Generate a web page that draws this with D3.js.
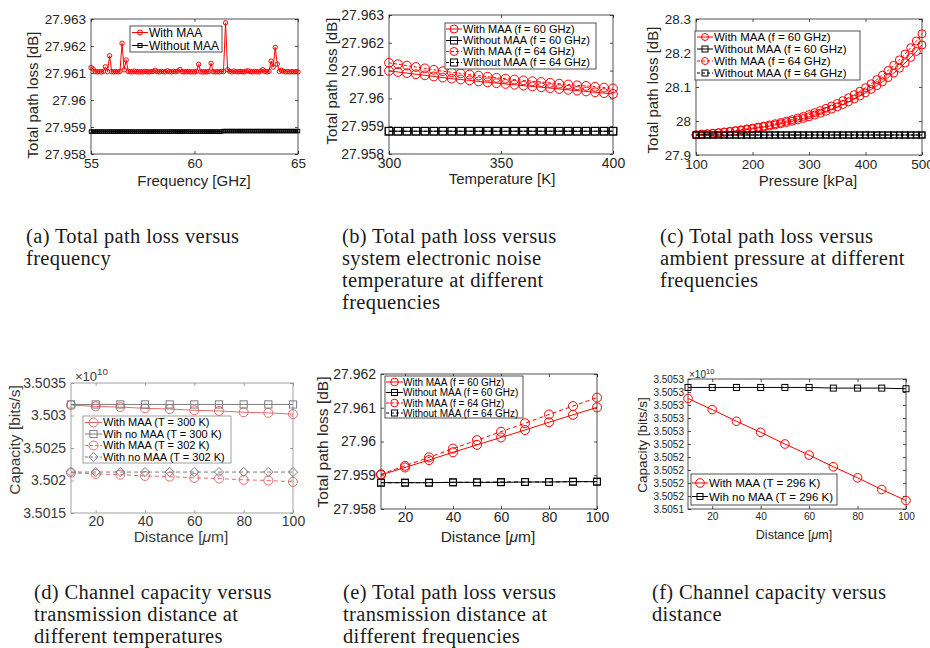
<!DOCTYPE html>
<html><head><meta charset="utf-8">
<script src="https://cdn.jsdelivr.net/npm/d3@7/dist/d3.min.js"></script>
<style>
body{margin:0;background:#fff}
svg{display:block}
</style>
</head><body>
<svg id="chart" width="930" height="648"></svg>
<script>
// ---------------- DATA ----------------
// (a) Total path loss vs frequency
const freqGHz = d3.range(101).map(i => +(55 + i * 0.1).toFixed(1));
const aWithMAA = [
27.96120,27.96115,27.96106,27.96104,27.96105,27.96104,27.96106,27.96123,27.96105,27.96164,
27.96105,27.96104,27.96105,27.96104,27.96106,27.96210,27.96112,27.96148,27.96106,27.96105,
27.96104,27.96107,27.96105,27.96104,27.96105,27.96104,27.96106,27.96105,27.96104,27.96105,
27.96106,27.96110,27.96105,27.96104,27.96106,27.96105,27.96104,27.96108,27.96105,27.96104,
27.96106,27.96105,27.96107,27.96113,27.96105,27.96104,27.96105,27.96106,27.96104,27.96105,
27.96104,27.96106,27.96132,27.96105,27.96104,27.96105,27.96104,27.96106,27.96136,27.96105,
27.96104,27.96105,27.96104,27.96106,27.96105,27.96286,27.96112,27.96106,27.96104,27.96107,
27.96105,27.96104,27.96106,27.96105,27.96104,27.96107,27.96108,27.96105,27.96104,27.96106,
27.96105,27.96104,27.96107,27.96112,27.96106,27.96104,27.96106,27.96144,27.96122,27.96195,
27.96133,27.96106,27.96110,27.96106,27.96104,27.96105,27.96104,27.96105,27.96104,27.96105,
27.96104];
const aWithoutMAA = [
27.95883,27.95883,27.95883,27.95883,27.95883,27.95883,27.95883,27.95883,27.95883,27.95883,
27.95883,27.95883,27.95883,27.95883,27.95883,27.95883,27.95883,27.95883,27.95883,27.95883,
27.95883,27.95883,27.95883,27.95883,27.95883,27.95883,27.95883,27.95883,27.95883,27.95883,
27.95883,27.95883,27.95883,27.95883,27.95883,27.95883,27.95883,27.95883,27.95883,27.95883,
27.95883,27.95883,27.95883,27.95883,27.95883,27.95883,27.95883,27.95883,27.95883,27.95883,
27.95883,27.95883,27.95883,27.95883,27.95883,27.95883,27.95883,27.95883,27.95883,27.95883,
27.95883,27.95883,27.95883,27.95883,27.95885,27.95885,27.95885,27.95885,27.95885,27.95885,
27.95885,27.95885,27.95885,27.95885,27.95885,27.95885,27.95885,27.95885,27.95885,27.95885,
27.95885,27.95885,27.95885,27.95885,27.95885,27.95885,27.95885,27.95885,27.95885,27.95885,
27.95885,27.95885,27.95885,27.95885,27.95885,27.95885,27.95885,27.95885,27.95885,27.95885,
27.95885];

// (b) Total path loss vs temperature
const tempK = d3.range(26).map(i => 300 + 4 * i);
const bWith60 = [27.96099,27.96095,27.96091,27.96087,27.96083,27.96079,27.96075,27.96071,27.96068,27.96065,
27.96061,27.96058,27.96055,27.96052,27.96049,27.96046,27.96043,27.96040,27.96037,27.96034,
27.96031,27.96028,27.96025,27.96022,27.96019,27.96016];
const bWithout60 = [27.95882,27.95882,27.95882,27.95882,27.95882,27.95882,27.95882,27.95882,27.95882,27.95882,
27.95882,27.95882,27.95882,27.95882,27.95882,27.95882,27.95882,27.95882,27.95882,27.95882,
27.95882,27.95882,27.95882,27.95882,27.95882,27.95882];
const bWith64 = [27.96128,27.96123,27.96118,27.96113,27.96108,27.96103,27.96098,27.96094,27.96090,27.96086,
27.96082,27.96078,27.96074,27.96071,27.96068,27.96065,27.96062,27.96059,27.96056,27.96053,
27.96050,27.96047,27.96045,27.96042,27.96039,27.96036];
const bWithout64 = [27.95882,27.95882,27.95882,27.95882,27.95882,27.95882,27.95882,27.95882,27.95882,27.95882,
27.95882,27.95882,27.95882,27.95882,27.95882,27.95882,27.95882,27.95882,27.95882,27.95882,
27.95882,27.95882,27.95882,27.95882,27.95882,27.95882];

// (c) Total path loss vs pressure
const pressureKPa = d3.range(41).map(i => 100 + 10 * i);
const cWith60 = [27.9595,27.9608,27.9621,27.9636,27.9651,27.9668,27.9686,27.9705,27.9725,27.9747,
27.9771,27.9796,27.9823,27.9852,27.9883,27.9917,27.9953,27.9991,28.0032,28.0076,
28.0123,28.0174,28.0228,28.0286,28.0348,28.0415,28.0486,28.0563,28.0645,28.0733,
28.0827,28.0928,28.1036,28.1152,28.1277,28.1410,28.1553,28.1706,28.1870,28.2046,
28.2235];
const cWith64 = [27.9595,27.9609,27.9624,27.9641,27.9658,27.9677,27.9697,27.9719,27.9742,27.9767,
27.9793,27.9821,27.9852,27.9885,27.9920,27.9957,27.9997,28.0040,28.0087,28.0136,
28.0189,28.0246,28.0307,28.0372,28.0442,28.0517,28.0598,28.0684,28.0776,28.0875,
28.0981,28.1095,28.1217,28.1347,28.1487,28.1637,28.1798,28.1970,28.2155,28.2353,
28.2565];
const cWithout60 = [27.9588,27.9588,27.9588,27.9588,27.9588,27.9588,27.9588,27.9588,27.9588,27.9588,
27.9588,27.9588,27.9588,27.9588,27.9588,27.9588,27.9588,27.9588,27.9588,27.9588,
27.9588,27.9588,27.9588,27.9588,27.9588,27.9588,27.9588,27.9588,27.9588,27.9588,
27.9588,27.9588,27.9588,27.9588,27.9588,27.9588,27.9588,27.9588,27.9588,27.9588,
27.9588];
const cWithout64 = [27.9588,27.9588,27.9588,27.9588,27.9588,27.9588,27.9588,27.9588,27.9588,27.9588,
27.9588,27.9588,27.9588,27.9588,27.9588,27.9588,27.9588,27.9588,27.9588,27.9588,
27.9588,27.9588,27.9588,27.9588,27.9588,27.9588,27.9588,27.9588,27.9588,27.9588,
27.9588,27.9588,27.9588,27.9588,27.9588,27.9588,27.9588,27.9588,27.9588,27.9588,
27.9588];

// distance grid (micrometres) for (d), (e), (f)
const distanceUm = [10, 20, 30, 40, 50, 60, 70, 80, 90, 100];

// (d) Capacity (x 1e10 bits/s) vs distance
const dWith300 = [3.50316,3.50314,3.50313,3.50311,3.50310,3.50308,3.50307,3.50305,3.50304,3.50302];
const dNo300   = [3.50317,3.50317,3.50317,3.50317,3.50317,3.50317,3.50317,3.50317,3.50317,3.50317];
const dWith302 = [3.50212,3.50210,3.50209,3.50207,3.50206,3.50204,3.50203,3.50201,3.50200,3.50198];
const dNo302   = [3.50213,3.50213,3.50213,3.50213,3.50213,3.50213,3.50213,3.50213,3.50213,3.50213];

// (e) Total path loss vs distance
const eWith60    = [27.95901,27.95923,27.95945,27.95968,27.95990,27.96012,27.96034,27.96057,27.96079,27.96101];
const eWithout60 = [27.95878,27.95878,27.95878,27.95879,27.95879,27.95879,27.95880,27.95880,27.95881,27.95881];
const eWith64    = [27.95903,27.95928,27.95953,27.95979,27.96004,27.96029,27.96054,27.96080,27.96105,27.96130];
const eWithout64 = [27.95878,27.95878,27.95878,27.95879,27.95879,27.95880,27.95880,27.95880,27.95881,27.95881];

// (f) Capacity (x 1e10 bits/s) vs distance, T = 296 K
const fWith = [3.505310,3.505293,3.505275,3.505258,3.505240,3.505223,3.505205,3.505188,3.505170,3.505153];
const fNo   = [3.505327,3.505327,3.505327,3.505327,3.505327,3.505327,3.505326,3.505326,3.505326,3.505325];

// tick values
const ticksA_x = [55, 60, 65];
const ticksPL_y = [27.958, 27.959, 27.96, 27.961, 27.962, 27.963];
const ticksB_x = [300, 350, 400];
const ticksC_x = [100, 200, 300, 400, 500];
const ticksC_y = [27.9, 28, 28.1, 28.2, 28.3];
const ticksDist_x = [20, 40, 60, 80, 100];
const ticksD_y = [3.5015, 3.502, 3.5025, 3.503, 3.5035];
const ticksE_y = [27.958, 27.959, 27.96, 27.961, 27.962];
const ticksF_y = [3.50514,3.50516,3.50518,3.50520,3.50522,3.50524,3.50526,3.50528,3.50530,3.50532,3.50534];

// captions
const captions = [
  ["(a) Total path loss versus", "frequency"],
  ["(b) Total path loss versus", "system electronic noise", "temperature at different", "frequencies"],
  ["(c) Total path loss versus", "ambient pressure at different", "frequencies"],
  ["(d) Channel capacity versus", "transmission distance at", "different temperatures"],
  ["(e) Total path loss versus", "transmission distance at", "different frequencies"],
  ["(f) Channel capacity versus", "distance"]
];

// ---------------- DRAWING ----------------
const SANS = '"Liberation Sans", Arial, Helvetica, sans-serif';
const SERIF = '"Liberation Serif", "Times New Roman", serif';
const AX = '#262626';
const RED = '#ff0000';
const svg = d3.select('#chart');

const trim = v => String(+v.toFixed(6));

function drawMarker(g, type, cx, cy, s, color, sw) {
  if (type === 'o') {
    g.append('circle').attr('cx', cx).attr('cy', cy).attr('r', s)
      .attr('fill', 'none').attr('stroke', color).attr('stroke-width', sw);
  } else if (type === 's') {
    g.append('rect').attr('x', cx - s).attr('y', cy - s).attr('width', 2 * s).attr('height', 2 * s)
      .attr('fill', 'none').attr('stroke', color).attr('stroke-width', sw);
  } else if (type === 'd') {
    g.append('path').attr('d', `M${cx},${cy - s}L${cx + s},${cy}L${cx},${cy + s}L${cx - s},${cy}Z`)
      .attr('fill', 'none').attr('stroke', color).attr('stroke-width', sw);
  }
}

function panel(p) {
  const g = svg.append('g');
  const [bx0, bx1, by0, by1] = p.box;
  const x = d3.scaleLinear().domain(p.xDomain).range([bx0, bx1]);
  const y = d3.scaleLinear().domain(p.yDomain).range([by1, by0]);
  const ac = p.axisColor || AX;
  const tc = p.textColor || AX;

  g.append('rect').attr('x', bx0).attr('y', by0).attr('width', bx1 - bx0).attr('height', by1 - by0)
    .attr('fill', '#fff').attr('stroke', 'none');

  const tl = 3;
  const style = sel => {
    sel.select('.domain').remove();
    sel.selectAll('line').attr('stroke', ac).attr('stroke-width', 0.8);
    sel.selectAll('text').attr('fill', tc).style('font-size', p.tickFont + 'px').style('font-family', SANS);
  };
  g.append('g').attr('transform', `translate(0,${by1})`)
    .call(d3.axisBottom(x).tickValues(p.xTicks).tickSizeInner(-tl).tickSizeOuter(0).tickPadding(p.xPad || 4).tickFormat(p.xFmt || trim))
    .call(style);
  g.append('g').attr('transform', `translate(0,${by0})`)
    .call(d3.axisTop(x).tickValues(p.xTicks).tickSizeInner(-tl).tickSizeOuter(0).tickFormat(''))
    .call(style);
  g.append('g').attr('transform', `translate(${bx0},0)`)
    .call(d3.axisLeft(y).tickValues(p.yTicks).tickSizeInner(-tl).tickSizeOuter(0).tickPadding(p.yPad || 5).tickFormat(p.yFmt || trim))
    .call(style);
  g.append('g').attr('transform', `translate(${bx1},0)`)
    .call(d3.axisRight(y).tickValues(p.yTicks).tickSizeInner(-tl).tickSizeOuter(0).tickFormat(''))
    .call(style);

  g.append('rect').attr('x', bx0).attr('y', by0).attr('width', bx1 - bx0).attr('height', by1 - by0)
    .attr('fill', 'none').attr('stroke', ac).attr('stroke-width', 0.8);

  // series
  const line = d3.line().x(d => x(d[0])).y(d => y(d[1]));
  p.series.forEach(s => {
    const pts = s.x.map((xv, i) => [xv, s.y[i]]);
    g.append('path').attr('d', line(pts)).attr('fill', 'none').attr('stroke', s.color)
      .attr('stroke-width', s.lw || 1).attr('stroke-dasharray', s.dash || null);
    const mg = g.append('g');
    pts.forEach(d => drawMarker(mg, s.marker, x(d[0]), y(d[1]), s.size, s.color, s.msw || 1));
  });

  // axis labels
  g.append('text').attr('x', p.xLabel.x).attr('y', p.xLabel.y).attr('text-anchor', 'middle')
    .style('font-family', SANS).style('font-size', p.labelFont + 'px').attr('fill', tc)
    .call(t => {
      const parts = p.xLabel.parts;
      parts.forEach(pt => t.append('tspan').text(pt[0]).style('font-style', pt[1] ? 'italic' : null));
    });
  g.append('text').attr('transform', `translate(${p.yLabel.x},${p.yLabel.y}) rotate(-90)`)
    .attr('text-anchor', 'middle').attr('dy', '0.35em')
    .style('font-family', SANS).style('font-size', (p.yLabelFont || p.labelFont) + 'px').attr('fill', tc)
    .text(p.yLabel.text);

  // exponent
  if (p.exponent) {
    const e = p.exponent;
    const t = g.append('text').attr('x', e.x).attr('y', e.y).style('font-family', SANS)
      .style('font-size', e.font + 'px').attr('fill', tc);
    t.append('tspan').text('×10');
    t.append('tspan').attr('dy', -e.font * 0.45).style('font-size', (e.font * 0.75) + 'px').text('10');
  }

  // legend
  const L = p.legend;
  g.append('rect').attr('x', L.box[0]).attr('y', L.box[2]).attr('width', L.box[1] - L.box[0])
    .attr('height', L.box[3] - L.box[2]).attr('fill', '#fff').attr('stroke', ac).attr('stroke-width', 0.8);
  p.series.forEach((s, i) => {
    const cy = L.rows[i];
    g.append('line').attr('x1', L.sample[0]).attr('x2', L.sample[1]).attr('y1', cy).attr('y2', cy)
      .attr('stroke', s.color).attr('stroke-width', s.lw || 1).attr('stroke-dasharray', s.dash ? '3,2' : null);
    drawMarker(g, s.marker, (L.sample[0] + L.sample[1]) / 2, cy, s.legSize || s.size, s.color, s.msw || 1);
    g.append('text').attr('x', L.textX).attr('y', cy).attr('dy', '0.36em')
      .style('font-family', SANS).style('font-size', L.font + 'px').attr('fill', '#000').text(s.label);
  });
}

// (a)
panel({
  box: [91, 298, 19, 154], xDomain: [55, 65], yDomain: [27.958, 27.963],
  xTicks: ticksA_x, yTicks: ticksPL_y, tickFont: 13.5, labelFont: 15,
  xLabel: {x: 194, y: 186, parts: [["Frequency [GHz]"]]},
  yLabel: {x: 33, y: 95, text: "Total path loss [dB]"},
  series: [
    {x: freqGHz, y: aWithMAA, color: RED, marker: 'o', size: 2.2, legSize: 2.5, label: "With MAA"},
    {x: freqGHz, y: aWithoutMAA, color: '#000', marker: 's', size: 1.7, legSize: 2, label: "Without MAA"}
  ],
  legend: {box: [130, 222, 26, 52], rows: [32.5, 45.5], sample: [132, 148], textX: 149, font: 12}
});

// (b)
panel({
  box: [389, 613, 15, 154], xDomain: [300, 400], yDomain: [27.958, 27.963],
  xTicks: ticksB_x, yTicks: ticksPL_y, tickFont: 14, labelFont: 15,
  xLabel: {x: 502, y: 184, parts: [["Temperature [K]"]]},
  yLabel: {x: 332, y: 81, text: "Total path loss [dB]"},
  series: [
    {x: tempK, y: bWith60, color: RED, marker: 'o', size: 4.4, legSize: 4, label: "With MAA (f = 60 GHz)"},
    {x: tempK, y: bWithout60, color: '#000', marker: 's', size: 3.8, legSize: 3.5, label: "Without MAA (f = 60 GHz)"},
    {x: tempK, y: bWith64, color: RED, marker: 'o', size: 4.4, legSize: 4, dash: '3,2', label: "With MAA (f = 64 GHz)"},
    {x: tempK, y: bWithout64, color: '#000', marker: 's', size: 3.8, legSize: 3.5, dash: '3,2', label: "Without MAA (f = 64 GHz)"}
  ],
  legend: {box: [445, 596, 23, 69], rows: [29, 40.5, 51.5, 62.5], sample: [446, 462], textX: 463, font: 11}
});

// (c)
panel({
  box: [696, 922, 19, 155], xDomain: [100, 500], yDomain: [27.9, 28.3],
  xTicks: ticksC_x, yTicks: ticksC_y, tickFont: 13.5, labelFont: 15,
  xLabel: {x: 808, y: 186, parts: [["Pressure [kPa]"]]},
  yLabel: {x: 653, y: 90, text: "Total path loss [dB]"},
  series: [
    {x: pressureKPa, y: cWith60, color: RED, marker: 'o', size: 4, legSize: 3.5, label: "With MAA (f = 60 GHz)"},
    {x: pressureKPa, y: cWithout60, color: '#000', marker: 's', size: 3, legSize: 3, label: "Without MAA (f = 60 GHz)"},
    {x: pressureKPa, y: cWith64, color: RED, marker: 'o', size: 4, legSize: 3.5, dash: '3,2', label: "With MAA (f = 64 GHz)"},
    {x: pressureKPa, y: cWithout64, color: '#000', marker: 's', size: 3, legSize: 3, dash: '3,2', label: "Without MAA (f = 64 GHz)"}
  ],
  legend: {box: [695, 860, 31, 80], rows: [37, 49, 61, 73], sample: [697, 713], textX: 714, font: 11.5}
});

// (d)
const DRED = '#e46a6a', DGRAY = '#7c7c7c';
panel({
  box: [71, 293, 383, 513], xDomain: [10, 100], yDomain: [3.5015, 3.5035],
  xTicks: ticksDist_x, yTicks: ticksD_y, tickFont: 14, labelFont: 15.5, xPad: 3,
  axisColor: '#8a8a8a', textColor: '#3a3a3a',
  xLabel: {x: 181, y: 542, parts: [["Distance ["], ["μ", true], ["m]"]]},
  yLabel: {x: 15, y: 440, text: "Capacity [bits/s]"},
  exponent: {x: 75, y: 381, font: 13},
  series: [
    {x: distanceUm, y: dWith300, color: DRED, marker: 'o', size: 4.5, legSize: 4.5, label: "With MAA (T = 300 K)"},
    {x: distanceUm, y: dNo300, color: DGRAY, marker: 's', size: 3.6, legSize: 3.6, label: "Wih no MAA (T = 300 K)"},
    {x: distanceUm, y: dWith302, color: DRED, marker: 'o', size: 4.5, legSize: 4.5, dash: '4,3', label: "With MAA (T = 302 K)"},
    {x: distanceUm, y: dNo302, color: DGRAY, marker: 'd', size: 4.6, legSize: 4.6, dash: '4,3', label: "With no MAA (T = 302 K)"}
  ],
  legend: {box: [83, 231, 416, 463], rows: [422.5, 434, 445.5, 457], sample: [85, 102], textX: 103, font: 11}
});

// (e)
panel({
  box: [381, 597, 374, 509], xDomain: [10, 100], yDomain: [27.958, 27.962],
  xTicks: ticksDist_x, yTicks: ticksE_y, tickFont: 14, labelFont: 15.5, xPad: 3,
  xLabel: {x: 488, y: 542, parts: [["Distance ["], ["μ", true], ["m]"]]},
  yLabel: {x: 323, y: 442, text: "Total path loss [dB]"},
  series: [
    {x: distanceUm, y: eWith60, color: RED, marker: 'o', size: 4.5, legSize: 3.8, label: "With MAA (f = 60 GHz)"},
    {x: distanceUm, y: eWithout60, color: '#000', marker: 's', size: 3.4, legSize: 3, label: "Without MAA (f = 60 GHz)"},
    {x: distanceUm, y: eWith64, color: RED, marker: 'o', size: 4.5, legSize: 3.8, dash: '4,3', label: "With MAA (f = 64 GHz)"},
    {x: distanceUm, y: eWithout64, color: '#000', marker: 's', size: 3.4, legSize: 3, dash: '4,3', label: "Without MAA (f = 64 GHz)"}
  ],
  legend: {box: [385, 523, 376, 418], rows: [382, 392.5, 403, 413], sample: [386, 403], textX: 403, font: 10}
});

// (f)
panel({
  box: [688, 906, 379, 509], xDomain: [10, 100], yDomain: [3.50514, 3.50534],
  xTicks: ticksDist_x, yTicks: ticksF_y, tickFont: 10, labelFont: 12.5, yLabelFont: 13.5,
  yFmt: v => v.toFixed(4), yPad: 4,
  xLabel: {x: 794, y: 539, parts: [["Distance ["], ["μ", true], ["m]"]]},
  yLabel: {x: 642, y: 445, text: "Capacity [bits/s]"},
  exponent: {x: 689, y: 378, font: 10},
  series: [
    {x: distanceUm, y: fWith, color: RED, marker: 'o', size: 4.3, legSize: 4.3, label: "With MAA (T = 296 K)"},
    {x: distanceUm, y: fNo, color: '#000', marker: 's', size: 3, legSize: 3, label: "Wih no MAA (T = 296 K)"}
  ],
  legend: {box: [691, 837, 474, 505], rows: [483, 496.5], sample: [692, 708], textX: 709, font: 11.5}
});

// captions
const capPos = [[26, 243], [342, 243], [660, 243], [34, 599], [343, 599], [652, 599]];
captions.forEach((lines, k) => {
  const t = svg.append('text').attr('x', capPos[k][0]).attr('y', capPos[k][1])
    .style('font-family', SERIF).style('font-size', '20.5px').style('letter-spacing', '0.35px')
    .attr('fill', '#1a1a1a');
  lines.forEach((ln, i) => t.append('tspan').attr('x', capPos[k][0]).attr('dy', i === 0 ? 0 : 22).text(ln));
});
</script>
</body></html>
